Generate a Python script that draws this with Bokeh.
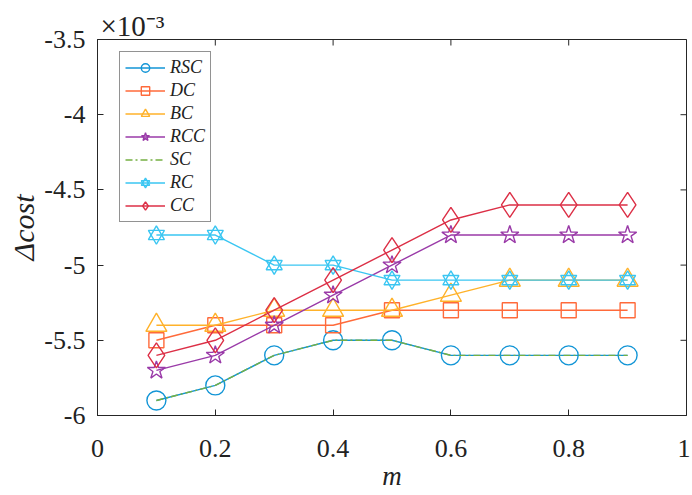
import math
from bokeh.plotting import figure
from bokeh.models import FixedTicker, Legend, LegendItem, Range1d
from bokeh.embed import file_html
from bokeh.resources import INLINE

# ---- data (values in units of 1e-3) ----
m = [0.1, 0.2, 0.3, 0.4, 0.5, 0.6, 0.7, 0.8, 0.9]
RSC = [-5.9, -5.8, -5.6, -5.5, -5.5, -5.6, -5.6, -5.6, -5.6]
DC = [-5.5, -5.4, -5.4, -5.4, -5.3, -5.3, -5.3, -5.3, -5.3]
BC = [-5.4, -5.4, -5.3, -5.3, -5.3, -5.2, -5.1, -5.1, -5.1]
RCC = [-5.7, -5.6, -5.4, -5.2, -5.0, -4.8, -4.8, -4.8, -4.8]
SC = [-5.9, -5.8, -5.6, -5.5, -5.5, -5.6, -5.6, -5.6, -5.6]
RC = [-4.8, -4.8, -5.0, -5.0, -5.1, -5.1, -5.1, -5.1, -5.1]
CC = [-5.6, -5.5, -5.3, -5.1, -4.9, -4.7, -4.6, -4.6, -4.6]

x_ticks = [0, 0.2, 0.4, 0.6, 0.8, 1.0]
x_tick_labels = ["0", "0.2", "0.4", "0.6", "0.8", "1"]
y_ticks = [-6, -5.5, -5, -4.5, -4, -3.5]
y_tick_labels = ["-6", "-5.5", "-5", "-4.5", "-4", "-3.5"]
exponent_text = "×10⁻³"

SERIF = "Liberation Serif"
AX = "#262626"
TXT = "#222222"

x_lo, x_hi = x_ticks[0], x_ticks[-1]
y_lo, y_hi = y_ticks[0], y_ticks[-1]

p = figure(width=690, height=495, output_backend="svg", toolbar_location=None,
           x_range=Range1d(x_lo, x_hi), y_range=Range1d(y_lo, y_hi),
           min_border_left=97, min_border_right=4, min_border_top=39, min_border_bottom=80,
           title=exponent_text)
p.grid.visible = False
p.outline_line_color = AX
p.outline_line_width = 1
p.background_fill_color = "white"
p.border_fill_color = "white"

# exponent shown as title at the top-left
p.title.align = "left"
p.title.offset = 3
p.title.standoff = -4
p.title.text_font = SERIF
p.title.text_font_size = "29px"
p.title.text_font_style = "normal"
p.title.text_color = TXT

p.xaxis.ticker = FixedTicker(ticks=x_ticks)
p.xaxis.major_label_overrides = {t: l for t, l in zip(x_ticks, x_tick_labels)}
p.yaxis.ticker = FixedTicker(ticks=y_ticks)
p.yaxis.major_label_overrides = {t: l for t, l in zip(y_ticks, y_tick_labels)}

for ax in (p.xaxis[0], p.yaxis[0]):
    ax.major_tick_in = 6
    ax.major_tick_out = 0
    ax.minor_tick_line_color = None
    ax.axis_line_color = AX
    ax.major_tick_line_color = AX
    ax.major_label_text_font = SERIF
    ax.major_label_text_font_size = "26px"
    ax.major_label_text_color = TXT
    ax.axis_label_text_font = SERIF
    ax.axis_label_text_font_style = "italic"
    ax.axis_label_text_color = TXT

p.xaxis.major_label_standoff = 24
p.yaxis.major_label_standoff = 12
p.xaxis.axis_label = "m"
p.xaxis.axis_label_text_font_size = "27px"
p.xaxis.axis_label_standoff = 1
p.yaxis.axis_label = "Δcost"
p.yaxis.axis_label_text_font_size = "30px"
p.yaxis.axis_label_standoff = 1

# mirrored inward ticks on the top and right edges (box on)
p.scatter([x_hi] * len(y_ticks), y_ticks, marker="dash", size=12,
          line_color=AX, line_width=1)
p.scatter(x_ticks, [y_hi] * len(x_ticks), marker="dash", size=12, angle=math.pi / 2,
          line_color=AX, line_width=1)

C_RSC, C_DC, C_BC, C_RCC = "#1295d6", "#ff6a3a", "#ffb22a", "#9a3aa8"
C_SC, C_RC, C_CC = "#76b043", "#3ac6f2", "#dc2f46"
LW = 1.4

items = []

l = p.line(m, RSC, line_color=C_RSC, line_width=LW)
s = p.scatter(m, RSC, marker="circle", size=19, fill_color=None, line_color=C_RSC, line_width=LW)
items.append(LegendItem(label="RSC", renderers=[l, s]))

l = p.line(m, DC, line_color=C_DC, line_width=LW)
s = p.scatter(m, DC, marker="square", size=15, fill_color=None, line_color=C_DC, line_width=LW)
items.append(LegendItem(label="DC", renderers=[l, s]))

l = p.line(m, BC, line_color=C_BC, line_width=LW)
s = p.scatter(m, BC, marker="triangle", size=21, fill_color=None, line_color=C_BC, line_width=LW)
items.append(LegendItem(label="BC", renderers=[l, s]))

l = p.line(m, RCC, line_color=C_RCC, line_width=LW)
s = p.scatter(m, RCC, marker="star", size=19, fill_color=None, line_color=C_RCC, line_width=LW)
items.append(LegendItem(label="RCC", renderers=[l, s]))

l = p.line(m, SC, line_color=C_SC, line_width=LW, line_dash="7 3 2 3")
items.append(LegendItem(label="SC", renderers=[l]))

l = p.line(m, RC, line_color=C_RC, line_width=LW)
s1 = p.scatter(m, RC, marker="triangle", size=16, fill_color=None, line_color=C_RC, line_width=LW)
s2 = p.scatter(m, RC, marker="inverted_triangle", size=16, fill_color=None, line_color=C_RC, line_width=LW)
items.append(LegendItem(label="RC", renderers=[l, s1, s2]))

l = p.line(m, CC, line_color=C_CC, line_width=LW)
s = p.scatter(m, CC, marker="diamond", size=25, fill_color=None, line_color=C_CC, line_width=LW)
items.append(LegendItem(label="CC", renderers=[l, s]))

legend = Legend(items=items, location=(22, 193))
legend.border_line_color = AX
legend.border_line_width = 1
legend.background_fill_color = "white"
legend.background_fill_alpha = 1
legend.label_text_font = SERIF
legend.label_text_font_style = "italic"
legend.label_text_font_size = "18px"
legend.label_text_color = TXT
legend.glyph_width = 40
legend.glyph_height = 21
legend.label_height = 21
legend.spacing = 2
legend.padding = 5
legend.margin = 0
legend.label_standoff = 5
p.add_layout(legend, "center")

open("out.html", "w").write(file_html(p, INLINE))
